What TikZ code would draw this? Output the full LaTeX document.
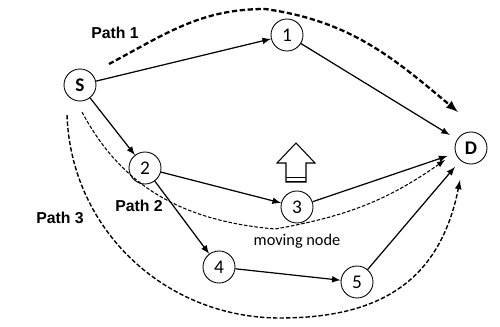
\documentclass[tikz,border=0pt]{standalone}
\usepackage{fontspec}
\setmainfont{Carlito}
\newfontfamily\labelfont{Liberation Sans}
\usetikzlibrary{positioning}
\tikzset{
  station/.style   = {shape=circle, draw, line width=0.5pt,
                      minimum size=0.64cm, inner sep=0pt,
                      font=\fontsize{11}{12}\selectfont},
  terminal/.style  = {station, font=\fontsize{11}{12}\selectfont\bfseries},
  link/.style      = {draw, -latex, line width=0.7pt},
  route/.style     = {draw, -latex},
  pathlabel/.style = {font=\labelfont\bfseries\fontsize{9}{10}\selectfont}
}

\begin{document}
\begin{tikzpicture}
  [
    routeone/.style   = {route, line width=1.3pt, dash pattern=on 3pt off 1.5pt},
    routetwo/.style   = {route, line width=0.6pt, dash pattern=on 2pt off 1pt},
    routethree/.style = {route, line width=0.8pt, dash pattern=on 2.5pt off 1.2pt}
  ]
  \useasboundingbox (0,0) rectangle (10,6.52);

  % nodes
  \node [terminal] (src) at (1.6,4.82)  {S};
  \node [station]  (a)   at (5.74,5.82) {1};
  \node [station]  (b)   at (2.9,3.16)  {2};
  \node [station]  (c)   at (5.94,2.38) {3};
  \node [station]  (d)   at (4.38,1.18) {4};
  \node [station]  (e)   at (7.14,0.88) {5};
  \node [terminal, outer sep=5pt] (dst) at (9.42,3.56) {D};

  % links
  \draw [link] (src) -- (a);
  \draw [link] (a) -- (dst);
  \draw [link] (src) -- (b);
  \draw [link] (b) -- (c);
  \draw [link] (c) -- (dst);
  \draw [link] (b) -- (d);
  \draw [link] (d) -- (e);
  \draw [link] (e) -- (dst);

  % paths
  \coordinate (p1s) at (2.18,5.24);
  \coordinate (p1e) at (9.16,4.28);
  \coordinate (p2s) at (1.64,4.28);
  \coordinate (p2e) at (8.9,3.32);
  \coordinate (p3s) at (1.34,4.22);
  \coordinate (p3e) at (9.2,2.92);
  \draw [routeone] (p1s) to[out=28, in=180] (5.3,6.34)
                         to[out=-8, in=140] (p1e);
  \draw [routetwo] (p2s) to[out=-62, in=175] (5.5,1.94)
                         to[out=10, in=215] (p2e);
  \draw [routethree] (p3s) to[out=-88, in=180] (5.6,0.16)
                           .. controls (7.6,0.16) and (8.8,0.9) .. (p3e);

  \node [pathlabel] (l1) at (2.3,5.86)  {Path 1};
  \node [pathlabel] (l2) at (2.78,2.4)  {Path 2};
  \node [pathlabel] (l3) at (1.2,2.16)  {Path 3};
  \node [font=\fontsize{9.3}{10}\selectfont, below=0.1cm of c] (mv) {moving node};

  % moving direction
  \draw [line width=0.6pt, fill=white]
    (5.72,2.88) -- (5.72,3.26) -- (5.54,3.26) -- (5.92,3.66)
    -- (6.30,3.26) -- (6.12,3.26) -- (6.12,2.88) -- cycle;
  \draw [line width=1.1pt] (5.72,2.97) -- (6.12,2.97);
  \draw [line width=1.1pt] (5.72,2.89) -- (6.12,2.89);
\end{tikzpicture}
\end{document}
